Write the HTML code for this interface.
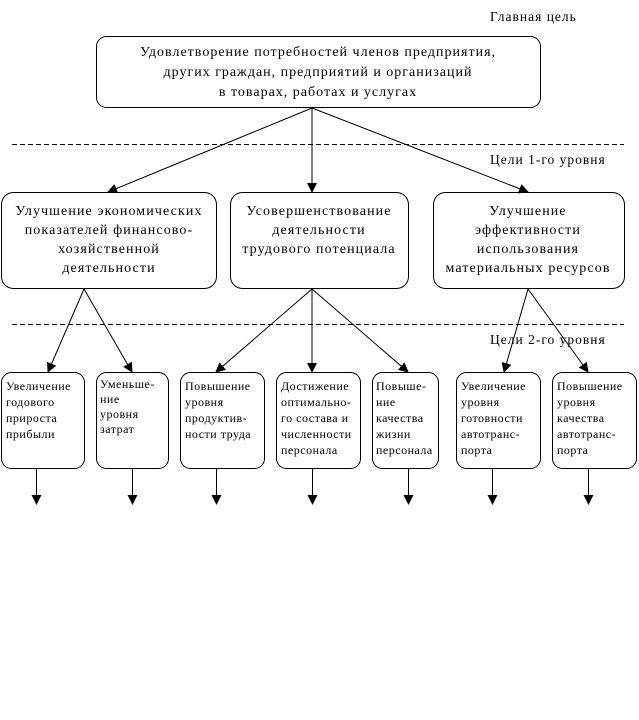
<!DOCTYPE html>
<html><head><meta charset="utf-8"><style>
html,body{margin:0;padding:0;background:#fff;width:639px;height:720px;overflow:hidden}
svg text{font-family:"Liberation Serif","DejaVu Serif",serif;fill:#000}
</style></head><body>
<svg width="639" height="720" viewBox="0 0 639 720" xmlns="http://www.w3.org/2000/svg">
<defs><marker id="a" markerWidth="10" markerHeight="10" refX="9" refY="5" orient="auto" markerUnits="userSpaceOnUse"><path d="M0,0 L10,5 L0,10 z" fill="#000"/></marker></defs>
<g fill="none" stroke="#000" stroke-width="1">
<rect x="96.5" y="36.5" width="444" height="71" rx="10"/>
<rect x="1.5" y="192.5" width="215" height="96" rx="12"/>
<rect x="230.5" y="192.5" width="178" height="96" rx="12"/>
<rect x="433.5" y="192.5" width="191" height="96" rx="12"/>
<rect x="1.5" y="372.5" width="83" height="96" rx="10"/>
<rect x="96.5" y="372.5" width="72" height="96" rx="10"/>
<rect x="180.5" y="372.5" width="84" height="96" rx="10"/>
<rect x="276.5" y="372.5" width="84" height="96" rx="10"/>
<rect x="372.5" y="372.5" width="66" height="96" rx="10"/>
<rect x="456.5" y="372.5" width="84" height="96" rx="10"/>
<rect x="552.5" y="372.5" width="84" height="96" rx="10"/>
<line x1="12" y1="144.5" x2="624" y2="144.5" stroke-dasharray="5,3"/>
<line x1="12" y1="324.5" x2="624" y2="324.5" stroke-dasharray="5,3"/>
<g marker-end="url(#a)">
<line x1="312" y1="108" x2="108" y2="192"/>
<line x1="312" y1="108" x2="312" y2="192"/>
<line x1="312" y1="108" x2="528" y2="192"/>
<line x1="84" y1="289" x2="48" y2="372"/>
<line x1="84" y1="289" x2="132" y2="372"/>
<line x1="312" y1="289" x2="216" y2="372"/>
<line x1="312" y1="289" x2="312" y2="372"/>
<line x1="312" y1="289" x2="408" y2="372"/>
<line x1="528" y1="289" x2="504" y2="372"/>
<line x1="528" y1="289" x2="588" y2="372"/>
<line x1="36.5" y1="469" x2="36.5" y2="504"/>
<line x1="132.5" y1="469" x2="132.5" y2="504"/>
<line x1="216.5" y1="469" x2="216.5" y2="504"/>
<line x1="312.5" y1="469" x2="312.5" y2="504"/>
<line x1="408.5" y1="469" x2="408.5" y2="504"/>
<line x1="492.5" y1="469" x2="492.5" y2="504"/>
<line x1="588.5" y1="469" x2="588.5" y2="504"/>
</g></g>
<g font-size="13.5" letter-spacing="1">
<text x="490" y="21">Главная цель</text>
<text x="490" y="164">Цели 1-го уровня</text>
<text x="490" y="344">Цели 2-го уровня</text>
</g>
<g font-size="14" text-anchor="middle" letter-spacing="1">
<text x="318" y="56">Удовлетворение потребностей членов предприятия,</text>
<text x="318" y="76">других граждан, предприятий и организаций</text>
<text x="318" y="96">в товарах,  работах и услугах</text>
</g>
<g font-size="14" text-anchor="middle" letter-spacing="1.1">
<text x="109" y="215">Улучшение экономических</text>
<text x="109" y="234">показателей финансово-</text>
<text x="109" y="253">хозяйственной</text>
<text x="109" y="272">деятельности</text>
<text x="319" y="215">Усовершенствование</text>
<text x="319" y="234">деятельности</text>
<text x="319" y="253">трудового потенциала</text>
<text x="528" y="215">Улучшение</text>
<text x="528" y="234">эффективности</text>
<text x="528" y="253">использования</text>
<text x="528" y="272">материальных ресурсов</text>
</g>
<g font-size="12" letter-spacing="0.5">
<text x="6" y="390">Увеличение</text><text x="6" y="406">годового</text><text x="6" y="422">прироста</text><text x="6" y="438">прибыли</text>
<text x="100" y="388">Уменьше-</text><text x="100" y="403">ние</text><text x="100" y="418">уровня</text><text x="100" y="433">затрат</text>
<text x="185" y="390">Повышение</text><text x="185" y="406">уровня</text><text x="185" y="422">продуктив-</text><text x="185" y="438">ности труда</text>
<text x="281" y="390">Достижение</text><text x="281" y="406">оптимально-</text><text x="281" y="422">го состава и</text><text x="281" y="438">численности</text><text x="281" y="454">персонала</text>
<text x="376" y="390">Повыше-</text><text x="376" y="406">ние</text><text x="376" y="422">качества</text><text x="376" y="438">жизни</text><text x="376" y="454">персонала</text>
<text x="461" y="390">Увеличение</text><text x="461" y="406">уровня</text><text x="461" y="422">готовности</text><text x="461" y="438">автотранс-</text><text x="461" y="454">порта</text>
<text x="557" y="390">Повышение</text><text x="557" y="406">уровня</text><text x="557" y="422">качества</text><text x="557" y="438">автотранс-</text><text x="557" y="454">порта</text>
</g>
</svg>
</body></html>
